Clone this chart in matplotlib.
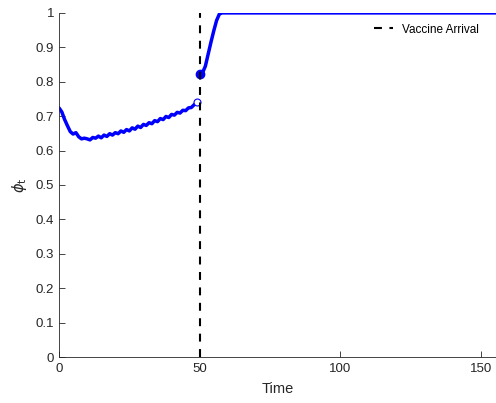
import numpy as np
import matplotlib
matplotlib.use("Agg")
import matplotlib.pyplot as plt

plt.rcParams["font.family"] = ["Liberation Sans", "DejaVu Sans"]

# before vaccine arrival
t_pre = list(range(0, 50))
phi_pre = [0.724, 0.712, 0.690, 0.672, 0.655, 0.648, 0.652, 0.640, 0.634, 0.636,
           0.634, 0.631, 0.638, 0.636, 0.642, 0.637, 0.645, 0.641, 0.649, 0.645,
           0.652, 0.649, 0.657, 0.653, 0.661, 0.657, 0.666, 0.662, 0.671, 0.667,
           0.676, 0.673, 0.681, 0.678, 0.687, 0.684, 0.693, 0.690, 0.699, 0.696,
           0.705, 0.703, 0.711, 0.709, 0.717, 0.716, 0.724, 0.725, 0.733, 0.740]

# after vaccine arrival
t_post = [50, 51, 52, 53, 54, 55, 56, 57, 58, 60, 80, 100, 120, 140, 156]
phi_post = [0.823, 0.826, 0.845, 0.880, 0.915, 0.948, 0.978, 0.997, 1.0, 1.0,
            1.0, 1.0, 1.0, 1.0, 1.0]

vaccine_time = 50

fig = plt.figure(figsize=(4.96, 4.03), dpi=100)
ax = fig.add_axes([0.119, 0.114, 0.881, 0.854])

blue = (0, 0, 1)
ax.plot(t_pre, phi_pre, color=blue, lw=2.5, solid_capstyle="round")
ax.plot(t_post, phi_post, color=blue, lw=2.5, solid_capstyle="round")
ax.plot([t_pre[-1]], [phi_pre[-1]], "o", ms=5, mfc="white", mec=blue, mew=0.8)
ax.plot([t_post[0]], [phi_post[0]], "o", ms=6, mfc=blue, mec=blue)
ax.plot([vaccine_time, vaccine_time], [0, 1], color="k", lw=1.5,
        dashes=(3.8, 3.6), label="Vaccine Arrival")

ax.set_xlim(0, 155.3)
ax.set_ylim(0, 1)
ax.set_xticks([0, 50, 100, 150])
ax.set_yticks(np.arange(0, 1.01, 0.1))
ax.set_yticklabels(["0", "0.1", "0.2", "0.3", "0.4", "0.5", "0.6", "0.7", "0.8", "0.9", "1"])
ax.tick_params(direction="in", length=4, width=0.6, labelsize=9.5, colors="#262626",
               top=False, right=False)
ax.tick_params(axis="x", pad=4)
for s in ["top", "right"]:
    ax.spines[s].set_visible(False)
for s in ["left", "bottom"]:
    ax.spines[s].set_color("#262626")
    ax.spines[s].set_linewidth(0.6)

ax.set_xlabel("Time", fontsize=10.5, color="#262626", labelpad=5)
ax.set_ylabel(r"$\phi_\mathrm{t}$", fontsize=10.5, color="#262626", labelpad=5)

ax.legend(loc="upper right", frameon=False, fontsize=8.5, handlelength=1.6,
          bbox_to_anchor=(0.985, 1.0))

fig.savefig("out.png", dpi=100)
